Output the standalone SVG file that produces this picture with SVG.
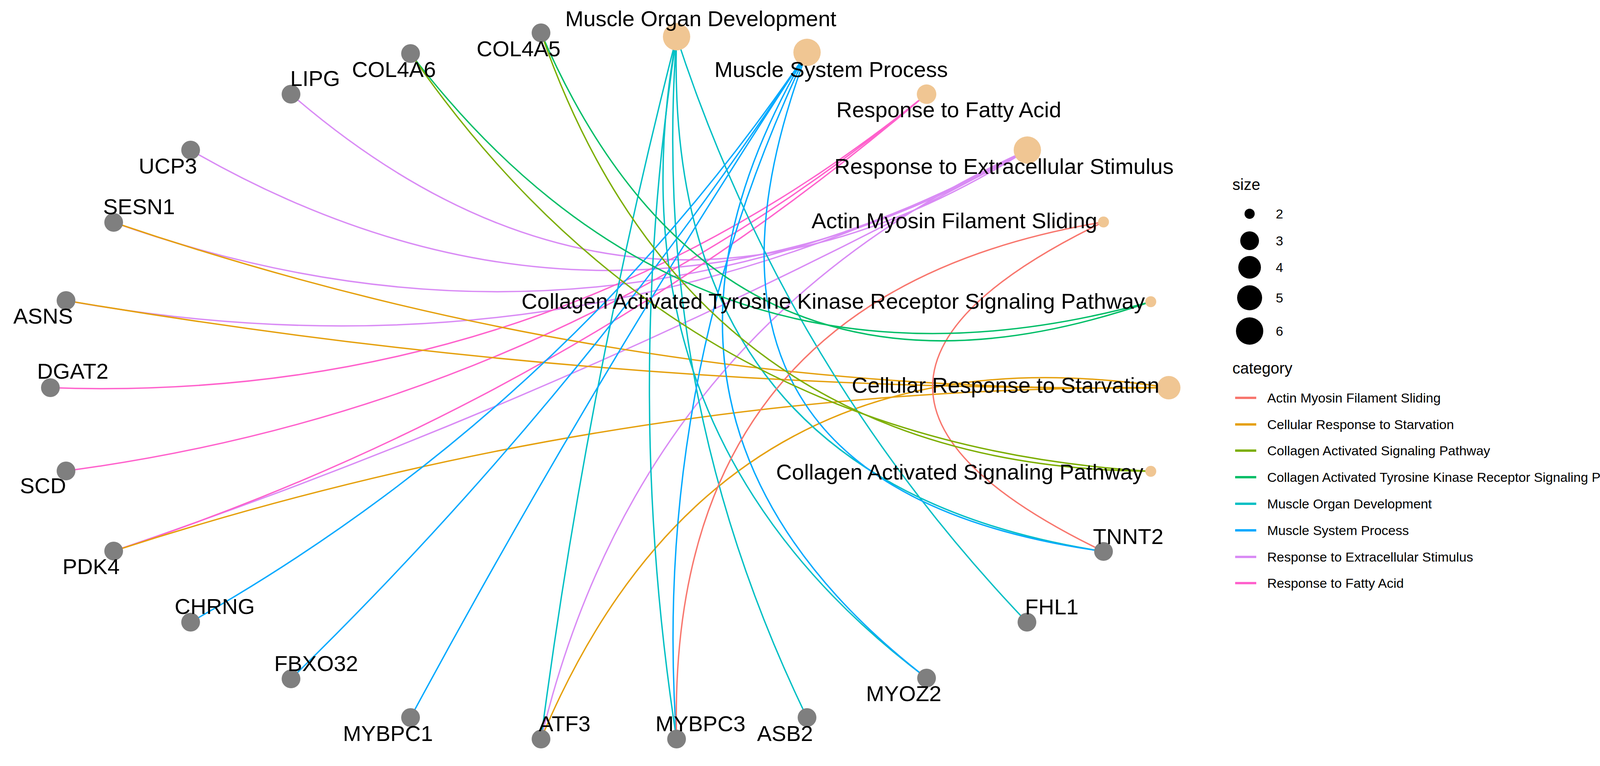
<svg xmlns="http://www.w3.org/2000/svg" width="4251" height="1960" viewBox="0 0 4251 1960">
<style>
.e{fill:none;stroke-width:3.5}
.ams{stroke:#F8766D}.crs{stroke:#E5A00D}.cas{stroke:#7CAE00}.ctk{stroke:#00BE67}.mod{stroke:#00BFC4}.msp{stroke:#00A9FF}.res{stroke:#D98BF5}.rfa{stroke:#FF61CC}
.g{fill:#7F7F7F}.c{fill:#F0C693}
text{font-family:"Liberation Sans",Arial,sans-serif;fill:#000}
.lb{font-size:56px}.lg{font-size:34px}.lt{font-size:40px}
</style>
<rect width="4251" height="1960" fill="#fff"/>
<g id="connectors">
<path class="e res" d="M745,241 Q1635,1010 2630,384"/>
<path class="e res" d="M488,384 Q1559,1000 2630,384"/>
<path class="e res" d="M291,569 Q1502,1000 2630,384"/>
<path class="e res" d="M169,769 Q1467,1005 2630,384"/>
<path class="e res" d="M291,1410 Q1505,998 2630,384"/>
<path class="e res" d="M1385,1891 Q1638,833 2630,384"/>
<path class="e rfa" d="M129,992 Q1391,1037 2372,241"/>
<path class="e rfa" d="M169,1205 Q1409,1040 2372,241"/>
<path class="e rfa" d="M291,1410 Q1446,1030 2372,241"/>
<path class="e crs" d="M291,569 Q1605,1016 2992,992"/>
<path class="e crs" d="M169,769 Q1571,1006 2992,992"/>
<path class="e crs" d="M291,1410 Q1608,983 2992,992"/>
<path class="e crs" d="M1385,1891 Q1836,812 2992,992"/>
<path class="e mod" d="M1385,1891 Q1504,982 1732,94"/>
<path class="e mod" d="M1732,1891 Q1593,992 1732,94"/>
<path class="e mod" d="M2066,1836 Q1664,1010 1732,94"/>
<path class="e mod" d="M2629,1592 Q2010,945 1732,94"/>
<path class="e mod" d="M2825,1411 Q1696,1236 1732,94"/>
<path class="e mod" d="M2372,1735 Q1544,1113 1732,94"/>
<path class="e msp" d="M488,1592 Q1448,1048 2066,134"/>
<path class="e msp" d="M745,1737 Q1493,1008 2066,134"/>
<path class="e msp" d="M1051,1836 Q1522,963 2066,134"/>
<path class="e msp" d="M1732,1891 Q1667,968 2066,134"/>
<path class="e msp" d="M2825,1411 Q1647,1247 2066,134"/>
<path class="e msp" d="M2372,1735 Q1513,1069 2066,134"/>
<path class="e ams" d="M2825,1411 Q1950,990 2825,568"/>
<path class="e ams" d="M1732,1891 Q1703,754 2825,568"/>
<path class="e ctk" d="M1385,84 Q1846,1153 2946,772"/>
<path class="e ctk" d="M1051,137 Q1784,1095 2946,772"/>
<path class="e cas" d="M1385,84 Q1771,1195 2946,1206"/>
<path class="e cas" d="M1051,137 Q1738,1134 2946,1206"/>
</g>
<g id="node-mod"><circle class="c" cx="1732" cy="94" r="35"/><text class="lb" x="1447" y="67">Muscle Organ Development</text></g>
<g id="node-msp"><circle class="c" cx="2066" cy="134" r="35"/><text class="lb" x="1829" y="197">Muscle System Process</text></g>
<g id="node-rfa"><circle class="c" cx="2372" cy="241" r="25"/><text class="lb" x="2141" y="300">Response to Fatty Acid</text></g>
<g id="node-res"><circle class="c" cx="2630" cy="384" r="35"/><text class="lb" x="2136" y="445">Response to Extracellular Stimulus</text></g>
<g id="node-ams"><circle class="c" cx="2825" cy="568" r="14"/><text class="lb" x="2809" y="584" text-anchor="end">Actin Myosin Filament Sliding</text></g>
<g id="node-ctk"><circle class="c" cx="2946" cy="772" r="14"/><text class="lb" x="2931" y="790" text-anchor="end">Collagen Activated Tyrosine Kinase Receptor Signaling Pathway</text></g>
<g id="node-crs"><circle class="c" cx="2992" cy="992" r="30"/><text class="lb" x="2968" y="1005" text-anchor="end">Cellular Response to Starvation</text></g>
<g id="node-cas"><circle class="c" cx="2946" cy="1206" r="14"/><text class="lb" x="2927" y="1227" text-anchor="end">Collagen Activated Signaling Pathway</text></g>
<g id="node-col4a5"><circle class="g" cx="1385" cy="84" r="24"/><text class="lb" x="1220" y="144">COL4A5</text></g>
<g id="node-col4a6"><circle class="g" cx="1051" cy="137" r="24"/><text class="lb" x="901" y="197">COL4A6</text></g>
<g id="node-lipg"><circle class="g" cx="745" cy="241" r="24"/><text class="lb" x="743" y="220">LIPG</text></g>
<g id="node-ucp3"><circle class="g" cx="488" cy="384" r="24"/><text class="lb" x="355" y="444">UCP3</text></g>
<g id="node-sesn1"><circle class="g" cx="291" cy="569" r="24"/><text class="lb" x="264" y="548">SESN1</text></g>
<g id="node-asns"><circle class="g" cx="169" cy="769" r="24"/><text class="lb" x="34" y="828">ASNS</text></g>
<g id="node-dgat2"><circle class="g" cx="129" cy="992" r="24"/><text class="lb" x="95" y="969">DGAT2</text></g>
<g id="node-scd"><circle class="g" cx="169" cy="1205" r="24"/><text class="lb" x="51" y="1262">SCD</text></g>
<g id="node-pdk4"><circle class="g" cx="291" cy="1410" r="24"/><text class="lb" x="160" y="1469">PDK4</text></g>
<g id="node-chrng"><circle class="g" cx="488" cy="1592" r="24"/><text class="lb" x="447" y="1571">CHRNG</text></g>
<g id="node-fbxo32"><circle class="g" cx="745" cy="1737" r="24"/><text class="lb" x="702" y="1717">FBXO32</text></g>
<g id="node-mybpc1"><circle class="g" cx="1051" cy="1836" r="24"/><text class="lb" x="878" y="1896">MYBPC1</text></g>
<g id="node-atf3"><circle class="g" cx="1385" cy="1891" r="24"/><text class="lb" x="1379" y="1871">ATF3</text></g>
<g id="node-mybpc3"><circle class="g" cx="1732" cy="1891" r="24"/><text class="lb" x="1678" y="1871">MYBPC3</text></g>
<g id="node-asb2"><circle class="g" cx="2066" cy="1836" r="24"/><text class="lb" x="1938" y="1896">ASB2</text></g>
<g id="node-tnnt2"><circle class="g" cx="2825" cy="1411" r="24"/><text class="lb" x="2798" y="1392">TNNT2</text></g>
<g id="node-fhl1"><circle class="g" cx="2629" cy="1592" r="24"/><text class="lb" x="2624" y="1572">FHL1</text></g>
<g id="node-myoz2"><circle class="g" cx="2372" cy="1735" r="24"/><text class="lb" x="2217" y="1794">MYOZ2</text></g>
<g id="legend">
<text class="lt" x="3155" y="486">size</text>
<circle cx="3199" cy="547" r="13"/><text class="lg" x="3266" y="559">2</text>
<circle cx="3199" cy="616" r="24"/><text class="lg" x="3266" y="628">3</text>
<circle cx="3199" cy="684" r="29"/><text class="lg" x="3266" y="696">4</text>
<circle cx="3199" cy="762" r="32"/><text class="lg" x="3266" y="774">5</text>
<circle cx="3199" cy="847" r="35"/><text class="lg" x="3266" y="859">6</text>
<text class="lt" x="3155" y="956">category</text>
<g stroke-width="6">
<line class="ams" x1="3162" y1="1018" x2="3216" y2="1018"/>
<line class="crs" x1="3162" y1="1086" x2="3216" y2="1086"/>
<line class="cas" x1="3162" y1="1153" x2="3216" y2="1153"/>
<line class="ctk" x1="3162" y1="1221" x2="3216" y2="1221"/>
<line class="mod" x1="3162" y1="1289" x2="3216" y2="1289"/>
<line class="msp" x1="3162" y1="1357" x2="3216" y2="1357"/>
<line class="res" x1="3162" y1="1425" x2="3216" y2="1425"/>
<line class="rfa" x1="3162" y1="1492" x2="3216" y2="1492"/>
</g>
<text class="lg" x="3244" y="1030">Actin Myosin Filament Sliding</text>
<text class="lg" x="3244" y="1098">Cellular Response to Starvation</text>
<text class="lg" x="3244" y="1165">Collagen Activated Signaling Pathway</text>
<text class="lg" x="3244" y="1233" font-size="30" textLength="960" lengthAdjust="spacingAndGlyphs">Collagen Activated Tyrosine Kinase Receptor Signaling Pathway</text>
<text class="lg" x="3244" y="1301">Muscle Organ Development</text>
<text class="lg" x="3244" y="1369">Muscle System Process</text>
<text class="lg" x="3244" y="1437">Response to Extracellular Stimulus</text>
<text class="lg" x="3244" y="1504">Response to Fatty Acid</text>
</g>
</svg>
